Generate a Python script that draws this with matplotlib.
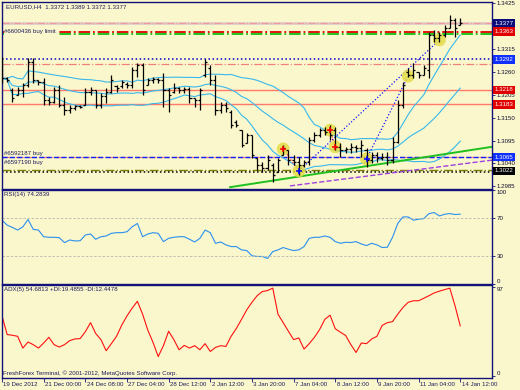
import matplotlib.pyplot as plt
import numpy as np
import pandas as pd

plt.rcParams['font.family'] = ['Liberation Sans', 'DejaVu Sans']

# EURUSD H4, 19 Dec 2012 .. 14 Jan 2013 12:00
opens = [1.3289, 1.3245, 1.3217, 1.3205, 1.3217, 1.3229, 1.3284, 1.3241, 1.3236, 1.3193,
         1.3188, 1.3217, 1.3181, 1.3169, 1.3173, 1.3178, 1.3181, 1.3212, 1.3217, 1.3181,
         1.3202, 1.3212, 1.3226, 1.3226, 1.3231, 1.3229, 1.3265, 1.3277, 1.3229, 1.3241,
         1.3243, 1.3241, 1.3217, 1.3212, 1.3221, 1.3217, 1.3219, 1.3197, 1.3193, 1.3253,
         1.3270, 1.3241, 1.3169, 1.3181, 1.3164, 1.3140, 1.3120, 1.3089, 1.3108, 1.3053,
         1.3036, 1.3029, 1.3036, 1.3020, 1.3060, 1.3072, 1.3048, 1.3044, 1.3036, 1.3044,
         1.3096, 1.3108, 1.3120, 1.3120, 1.3120, 1.3080, 1.3072, 1.3075, 1.3080, 1.3077,
         1.3072, 1.3048, 1.3060, 1.3053, 1.3055, 1.3048, 1.3092, 1.3181, 1.3260, 1.3253,
         1.3260, 1.3253, 1.3265, 1.3349, 1.3342, 1.3349, 1.3366, 1.3385, 1.3372]
highs = [1.3296, 1.3248, 1.3221, 1.3224, 1.3233, 1.3294, 1.3294, 1.3241, 1.3245, 1.3200,
         1.3224, 1.3229, 1.3200, 1.3181, 1.3181, 1.3181, 1.3221, 1.3224, 1.3217, 1.3209,
         1.3221, 1.3253, 1.3229, 1.3241, 1.3236, 1.3272, 1.3282, 1.3282, 1.3245, 1.3248,
         1.3245, 1.3258, 1.3221, 1.3233, 1.3224, 1.3224, 1.3224, 1.3197, 1.3221, 1.3291,
         1.3277, 1.3253, 1.3188, 1.3188, 1.3169, 1.3145, 1.3120, 1.3113, 1.3108, 1.3053,
         1.3044, 1.3060, 1.3041, 1.3053, 1.3084, 1.3072, 1.3060, 1.3055, 1.3048, 1.3104,
         1.3116, 1.3125, 1.3128, 1.3132, 1.3128, 1.3089, 1.3080, 1.3089, 1.3084, 1.3096,
         1.3077, 1.3068, 1.3068, 1.3065, 1.3068, 1.3104, 1.3193, 1.3236, 1.3270, 1.3282,
         1.3260, 1.3277, 1.3356, 1.3361, 1.3356, 1.3373, 1.3397, 1.3390, 1.3389]
lows = [1.3233, 1.3236, 1.3188, 1.3205, 1.3200, 1.3224, 1.3233, 1.3229, 1.3181, 1.3181,
        1.3185, 1.3176, 1.3157, 1.3161, 1.3169, 1.3173, 1.3181, 1.3205, 1.3173, 1.3173,
        1.3185, 1.3209, 1.3212, 1.3221, 1.3221, 1.3221, 1.3248, 1.3205, 1.3229, 1.3233,
        1.3233, 1.3176, 1.3164, 1.3209, 1.3209, 1.3209, 1.3185, 1.3176, 1.3169, 1.3248,
        1.3229, 1.3157, 1.3161, 1.3164, 1.3125, 1.3128, 1.3080, 1.3089, 1.3053, 1.3024,
        1.3020, 1.3024, 1.2995, 1.3020, 1.3060, 1.3036, 1.3036, 1.3012, 1.3032, 1.3036,
        1.3092, 1.3104, 1.3108, 1.3096, 1.3072, 1.3055, 1.3065, 1.3065, 1.3068, 1.3055,
        1.3032, 1.3041, 1.3044, 1.3048, 1.3036, 1.3041, 1.3089, 1.3173, 1.3248, 1.3245,
        1.3245, 1.3253, 1.3245, 1.3332, 1.3332, 1.3344, 1.3366, 1.3344, 1.3372]
closes = [1.3245, 1.3241, 1.3197, 1.3217, 1.3229, 1.3284, 1.3241, 1.3236, 1.3193, 1.3188,
          1.3217, 1.3181, 1.3169, 1.3173, 1.3178, 1.3176, 1.3212, 1.3217, 1.3181, 1.3202,
          1.3212, 1.3241, 1.3221, 1.3236, 1.3229, 1.3265, 1.3277, 1.3217, 1.3241, 1.3243,
          1.3241, 1.3217, 1.3205, 1.3221, 1.3217, 1.3219, 1.3197, 1.3193, 1.3217, 1.3284,
          1.3241, 1.3169, 1.3181, 1.3173, 1.3132, 1.3132, 1.3084, 1.3108, 1.3060, 1.3036,
          1.3029, 1.3048, 1.3012, 1.3048, 1.3077, 1.3048, 1.3044, 1.3036, 1.3044, 1.3096,
          1.3108, 1.3120, 1.3116, 1.3108, 1.3080, 1.3072, 1.3075, 1.3080, 1.3077, 1.3084,
          1.3048, 1.3060, 1.3053, 1.3055, 1.3048, 1.3092, 1.3181, 1.3229, 1.3253, 1.3265,
          1.3253, 1.3270, 1.3349, 1.3342, 1.3349, 1.3366, 1.3385, 1.3366, 1.3377]

rsi = [67.9, 62.6, 60.2, 57.4, 60.8, 68.6, 58.1, 57.4, 50.3, 49.7,
       49.7, 49.3, 44.0, 46.8, 45.8, 46.0, 52.1, 53.2, 47.6, 50.3,
       51.1, 53.9, 54.6, 54.6, 55.6, 60.9, 64.4, 50.3, 53.2, 54.6,
       53.9, 45.1, 48.6, 49.7, 50.3, 50.3, 47.6, 44.7, 48.6, 57.4,
       54.6, 43.3, 44.7, 41.6, 39.8, 39.8, 36.3, 35.6, 30.0, 29.3,
       29.3, 27.2, 34.5, 36.3, 38.8, 37.0, 35.6, 36.3, 39.8, 48.6,
       49.7, 49.7, 51.1, 49.7, 45.1, 43.3, 44.4, 44.1, 45.1, 42.6,
       40.9, 43.3, 41.6, 38.8, 39.1, 49.7, 64.4, 71.4, 71.4, 67.9,
       68.9, 69.6, 74.9, 76.0, 72.4, 74.2, 74.9, 73.9, 74.28]
adx = [65.4, 45.2, 44.4, 43.3, 30.5, 37.1, 34.2, 30.5, 36.0, 42.2,
       34.2, 31.6, 34.2, 38.6, 40.4, 40.8, 48.2, 58.1, 46.3, 39.7,
       27.6, 35.3, 43.3, 55.5, 65.4, 73.9, 81.3, 67.3, 50.0, 36.7,
       21.3, 33.1, 48.8, 39.7, 28.7, 33.4, 30.5, 33.1, 28.7, 35.3,
       26.8, 31.2, 33.1, 32.3, 43.3, 51.8, 61.7, 72.0, 80.2, 87.4,
       91.9, 93.0, 95.6, 67.3, 58.1, 48.8, 39.7, 41.5, 29.4, 35.3,
       42.2, 50.7, 61.7, 66.2, 51.5, 47.7, 44.1, 34.2, 25.7, 36.0,
       35.3, 40.4, 43.3, 55.1, 58.1, 59.2, 67.3, 74.6, 80.2, 81.9,
       81.9, 84.6, 87.4, 90.4, 92.3, 94.0, 95.6, 76.4, 54.68]

date_labels = ['19 Dec 2012', '21 Dec 00:00', '24 Dec 08:00', '27 Dec 04:00', '28 Dec 12:00',
               '2 Jan 12:00', '3 Jan 20:00', '7 Jan 04:00', '8 Jan 12:00', '9 Jan 20:00',
               '11 Jan 04:00', '14 Jan 12:00']
date_bars = [0, 8, 16, 24, 32, 40, 48, 56, 64, 72, 80, 88]

price_ticks = [1.2985, 1.3040, 1.3095, 1.3150, 1.3205, 1.3260, 1.3315, 1.3425]

# horizontal objects on the chart
hl_prices = [1.3377, 1.3377, 1.3357, 1.3351, 1.3290, 1.3279, 1.3217, 1.3182, 1.3055, 1.3055, 1.3025, 1.3019]
hl_colors = ['#e2cccc', '#f09a9a', '#e00000', '#10c010', '#0000c8', '#f08080', '#ff7a6a', '#ff7a6a',
             '#f08080', '#1020ff', '#808000', '#000000']
hl_styles = ['-', '-.', '-.', '-.', ':', '-.', '-', '-', '-.', '--', '-.', ':']
hl_widths = [2.0, 0.8, 1.3, 1.3, 1.1, 0.9, 1.0, 1.0, 0.9, 1.0, 1.0, 1.1]

# price tags on the right scale
tag_prices = [1.3377, 1.3357, 1.3290, 1.3217, 1.3182, 1.3055, 1.3022]
tag_texts = ['1.3377', '1.3363', '1.3292', '1.3218', '1.3183', '1.3065', '1.3022']
tag_colors = ['#0a0a78', '#e00000', '#1030ff', '#e00000', '#e00000', '#1030ff', '#000000']

order_texts = ['#6600436 buy limit', '#6592187 buy', '#6597190 buy']
order_prices = [1.3357, 1.3059, 1.3036]

# trend lines (bar index, price)
green_line = ([43.8, 94.1], [1.2983, 1.3080])
purple_line = ([55.3, 94.1], [1.2986, 1.3048])

# trade markers
mark_bars = [54, 57, 63, 64, 70, 78, 84]
mark_prices = [1.3075, 1.3022, 1.3120, 1.3080, 1.3051, 1.3250, 1.3337]
mark_kind = ['sell', 'buy', 'sell', 'sell', 'buy', '', '']
buy_lines = [([57, 84], [1.3022, 1.3337]), ([70, 78], [1.3051, 1.3250])]
sell_lines = [([54, 57], [1.3075, 1.3022]), ([63, 64], [1.3120, 1.3080])]

bg = '#fbf7cc'
frame = '#12127a'
ink = '#1c1c5c'
fs = 4.4
W, H = 520, 390

fig = plt.figure(figsize=(5.2, 3.9), dpi=100, facecolor=bg)


def rect(top, bottom):
    return [2 / W, 1 - bottom / H, 490 / W, (bottom - top) / H]


ax = fig.add_axes(rect(2, 189))
ax_rsi = fig.add_axes(rect(190, 284), sharex=ax)
ax_adx = fig.add_axes(rect(285, 378), sharex=ax)

for a in (ax, ax_rsi, ax_adx):
    a.set_facecolor(bg)
    for sp in a.spines.values():
        sp.set_color(frame)
        sp.set_linewidth(1.0)
    a.yaxis.tick_right()
    a.tick_params(axis='y', labelsize=fs, length=2, width=0.6, pad=1.5, colors=frame, labelcolor='#101030')
    a.tick_params(axis='x', bottom=False, labelbottom=False)

x = np.arange(len(opens))
ax.set_xlim(0.06, 94.1)
ax.set_ylim(1.29786, 1.34282)

# horizontal lines
for p, c, ls, lw in zip(hl_prices, hl_colors, hl_styles, hl_widths):
    ax.axhline(p, color=c, ls=ls, lw=lw, zorder=1)

# bollinger bands (20 bars, 1 deviation)
s = pd.Series(closes)
mid = s.rolling(20, min_periods=1).mean()
sd = s.rolling(20, min_periods=1).std(ddof=0)
for band in (mid + sd, mid, mid - sd):
    ax.plot(x, band, color='#38b8ec', lw=0.8, zorder=2)

ax.plot(*green_line, color='#20c020', lw=1.4, zorder=2)
ax.plot(*purple_line, color='#a040e0', lw=1.0, ls='--', zorder=2)

# trade lines and markers
for bx, by in buy_lines:
    ax.plot(bx, by, color='#1010ff', lw=0.9, ls=(0, (1, 1.6)), zorder=3)
for bx, by in sell_lines:
    ax.plot(bx, by, color='#ff2020', lw=0.9, ls=(0, (1, 1.6)), zorder=3)
ax.scatter(mark_bars, mark_prices, s=85, color='#e4dc48', alpha=0.85, edgecolors='none', zorder=4)
for b, p, k in zip(mark_bars, mark_prices, mark_kind):
    if k:
        ax.scatter([b], [p], marker='+', s=14, lw=1.1, color='#ff0000' if k == 'sell' else '#0000ff', zorder=6)

# OHLC bars
ax.vlines(x, lows, highs, color='black', lw=0.9, zorder=5)
ax.hlines(opens, x - 0.4, x, color='black', lw=0.9, zorder=5)
ax.hlines(closes, x, x + 0.4, color='black', lw=0.9, zorder=5)

ax.set_yticks(price_ticks)
ax.set_yticklabels([f'{p:.4f}' for p in price_ticks])

for p, t, c in zip(tag_prices, tag_texts, tag_colors):
    ax.text(1.0 + 2.5 / 490, p, t, transform=ax.get_yaxis_transform(), ha='left', va='center',
            fontsize=fs, color='white', clip_on=False, zorder=10,
            bbox=dict(boxstyle='square,pad=0.28', fc=c, ec='none'))

ax.text(0.005, order_prices[0], order_texts[0], fontsize=fs, color=ink, va='center',
        transform=ax.get_yaxis_transform(), zorder=7,
        bbox=dict(boxstyle='square,pad=0.1', fc=bg, ec='none'))
for t, p in zip(order_texts[1:], order_prices[1:]):
    ax.text(0.005, p, t, fontsize=fs, color=ink, va='bottom', transform=ax.get_yaxis_transform(), zorder=7)

ax.text(0.008, 0.99, 'EURUSD,H4  1.3372 1.3389 1.3372 1.3377', transform=ax.transAxes,
        va='top', ha='left', fontsize=fs, color=ink)

# RSI
ax_rsi.plot(x, rsi, color='#2a90f0', lw=0.8)
for lvl in (70, 30):
    ax_rsi.axhline(lvl, color='#b8b8b0', lw=0.6, ls=(0, (3, 2)))
ax_rsi.set_ylim(0, 100)
ax_rsi.set_yticks([0, 30, 70, 100])
ax_rsi.set_yticklabels(['0', '30', '70', '100'])
lab = ax_rsi.get_yticklabels()
lab[0].set_va('bottom')
lab[-1].set_va('top')
ax_rsi.text(0.005, 0.98, 'RSI(14) 74.2839', transform=ax_rsi.transAxes, va='top', fontsize=fs, color=ink)

# ADX
ax_adx.plot(x, adx, color='#ff1010', lw=0.8)
ax_adx.set_ylim(-2, 99)
ax_adx.set_yticks([0, 97])
ax_adx.set_yticklabels(['0', '97'])
lab = ax_adx.get_yticklabels()
lab[0].set_va('bottom')
lab[-1].set_va('top')
ax_adx.text(0.005, 0.98, 'ADX(5) 54.6813 +DI:19.4855 -DI:12.4478', transform=ax_adx.transAxes,
            va='top', fontsize=fs, color=ink)
ax_adx.text(0.003, 0.02, 'FreshForex Terminal, \u00a9 2001-2012, MetaQuotes Software Corp.',
            transform=ax_adx.transAxes, va='bottom', fontsize=fs, color=ink)

ax_adx.set_xticks(date_bars)
ax_adx.tick_params(axis='x', bottom=True, length=3, width=0.6, colors=frame, labelbottom=False)
for b, t in zip(date_bars, date_labels):
    ax_adx.text(b + 0.25, -0.07, t, transform=ax_adx.get_xaxis_transform(), ha='left', va='center',
                fontsize=fs, color=ink, clip_on=False)

fig.savefig('out.png', dpi=100, facecolor=bg)
